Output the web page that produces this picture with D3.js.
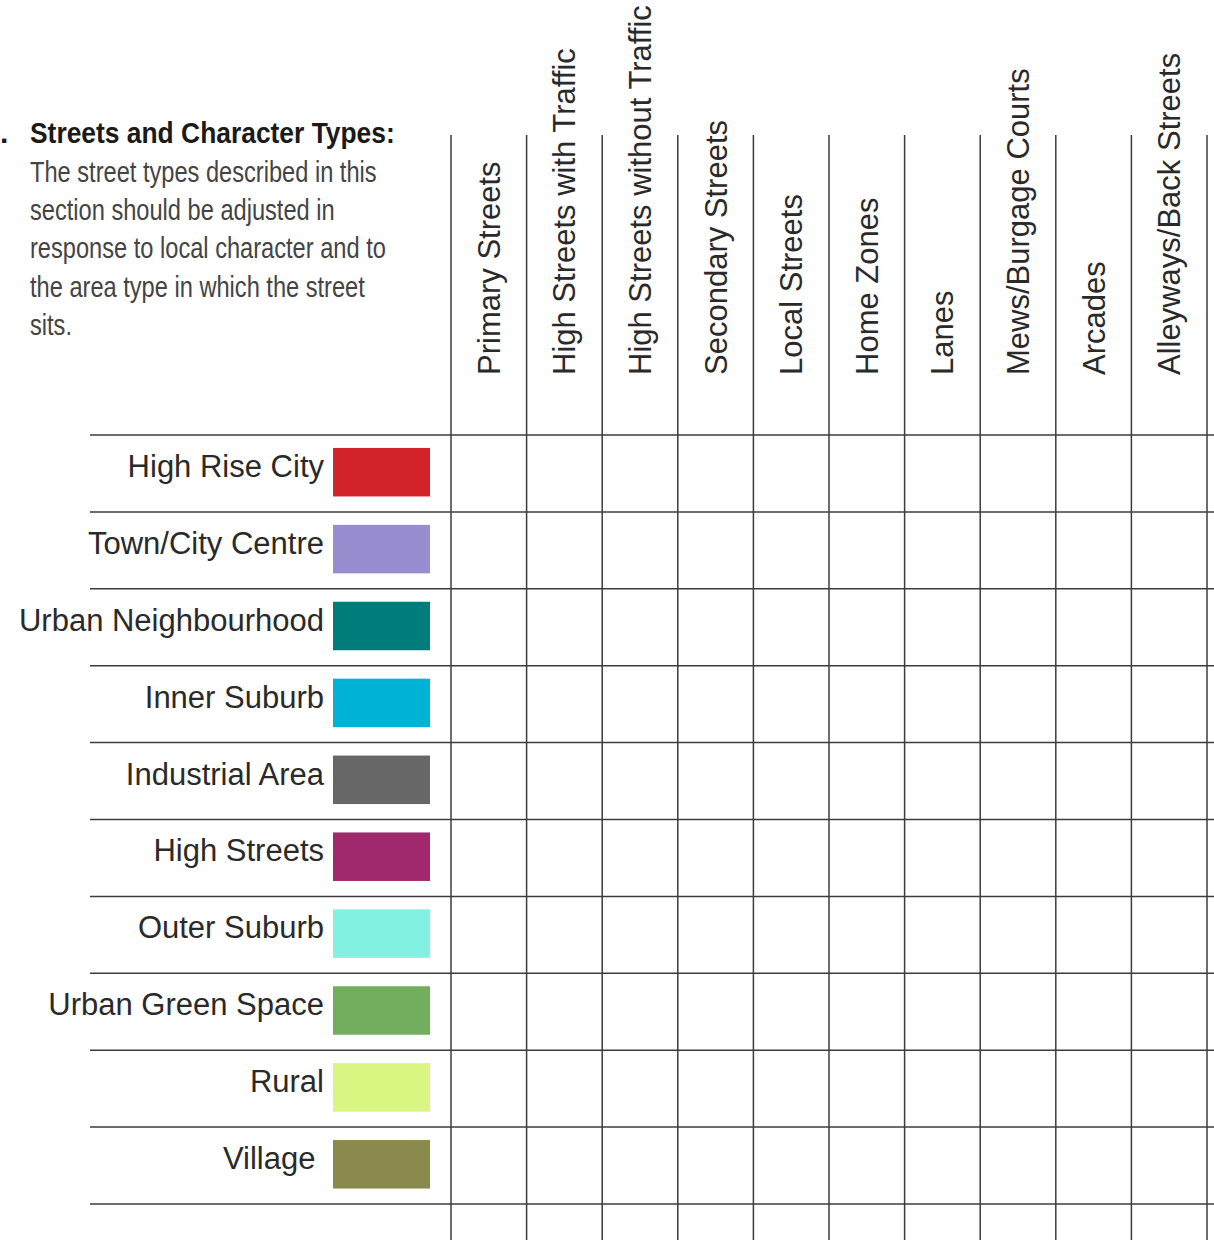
<!DOCTYPE html>
<html>
<head>
<meta charset="utf-8">
<script src="https://cdn.jsdelivr.net/npm/d3@7"></script>
<style>
  body { margin: 0; background: #fff; }
  svg { display: block; }
</style>
</head>
<body>
<svg width="1214" height="1240"></svg>
<script>
var streetTypes = ["Primary Streets", "High Streets with Traffic", "High Streets without Traffic",
  "Secondary Streets", "Local Streets", "Home Zones", "Lanes", "Mews/Burgage Courts",
  "Arcades", "Alleyways/Back Streets"];

var areaTypes = ["High Rise City", "Town/City Centre", "Urban Neighbourhood", "Inner Suburb",
  "Industrial Area", "High Streets", "Outer Suburb", "Urban Green Space", "Rural", "Village "];

var areaColors = ["#d2232a", "#978dcf", "#007d7a", "#00b3d6", "#676767",
  "#a0296d", "#82f1e1", "#73ae5e", "#d8f681", "#8a894e"];

var titleText = "Streets and Character Types:";
var introLines = ["The street types described in this", "section should be adjusted in",
  "response to local character and to", "the area type in which the street", "sits."];

var svg = d3.select("svg"),
    width = 1214,
    height = 1240,
    gridLeft = 451,
    gridTop = 435,
    gridBottom = 1204,
    lineColor = "#3c3c3c";

var font = "'Liberation Sans', Arial, Helvetica, sans-serif";

var x = d3.scaleBand()
    .domain(streetTypes)
    .range([gridLeft, 1207]);

var y = d3.scaleBand()
    .domain(areaTypes)
    .range([gridTop, gridBottom]);

var color = d3.scaleOrdinal()
    .domain(areaTypes)
    .range(areaColors);

// heading (condensed look by squeezing the type horizontally)
svg.append("text")
    .attr("x", 0)
    .attr("y", 143)
    .style("font-family", font)
    .style("font-weight", "bold")
    .style("font-size", "30px")
    .attr("fill", "#1a1a1a")
    .text(".");

svg.append("g")
    .attr("transform", "translate(30,143) scale(0.88,1)")
  .append("text")
    .style("font-family", font)
    .style("font-weight", "bold")
    .style("font-size", "30px")
    .attr("fill", "#1a1a1a")
    .text(titleText);

svg.append("g")
    .attr("transform", "translate(30,0) scale(0.815,1)")
    .selectAll("text")
    .data(introLines)
    .enter().append("text")
      .attr("x", 0)
      .attr("y", function(d, i) { return 182 + i * 38.2; })
      .style("font-family", font)
      .style("font-size", "29px")
      .attr("fill", "#444")
      .text(function(d) { return d; });

// column headers
svg.append("g")
    .selectAll("text")
    .data(streetTypes)
    .enter().append("text")
      .attr("transform", function(d) {
        return "translate(" + (x(d) + x.bandwidth() / 2 + 11) + ",375) rotate(-90)";
      })
      .style("font-family", font)
      .style("font-size", "31px")
      .attr("fill", "#2a2a2a")
      .text(function(d) { return d; });

// row labels and swatches
var rows = svg.append("g")
    .selectAll("g")
    .data(areaTypes)
    .enter().append("g")
      .attr("transform", function(d) { return "translate(0," + y(d) + ")"; });

rows.append("text")
    .attr("x", 324)
    .attr("y", y.bandwidth() / 2 + 3.5)
    .attr("text-anchor", "end")
    .style("white-space", "pre")
    .style("font-family", font)
    .style("font-size", "31px")
    .attr("fill", "#2a2a2a")
    .text(function(d) { return d; });

rows.append("rect")
    .attr("x", 333)
    .attr("y", y.bandwidth() / 2 - 25.5)
    .attr("width", 97)
    .attr("height", 48.5)
    .attr("fill", function(d) { return color(d); });

// grid lines
var hLines = [gridTop].concat(areaTypes.map(function(d) { return y(d) + y.bandwidth(); }));
var vLines = streetTypes.map(function(d) { return x(d); }).concat([x.range()[1]]);

svg.append("g")
    .selectAll("line")
    .data(hLines)
    .enter().append("line")
      .attr("x1", 90)
      .attr("x2", width)
      .attr("y1", function(d) { return d; })
      .attr("y2", function(d) { return d; })
      .attr("stroke", lineColor)
      .attr("stroke-width", 1.5);

svg.append("g")
    .selectAll("line")
    .data(vLines)
    .enter().append("line")
      .attr("x1", function(d) { return d; })
      .attr("x2", function(d) { return d; })
      .attr("y1", 135)
      .attr("y2", height)
      .attr("stroke", lineColor)
      .attr("stroke-width", 1.5);
</script>
</body>
</html>
